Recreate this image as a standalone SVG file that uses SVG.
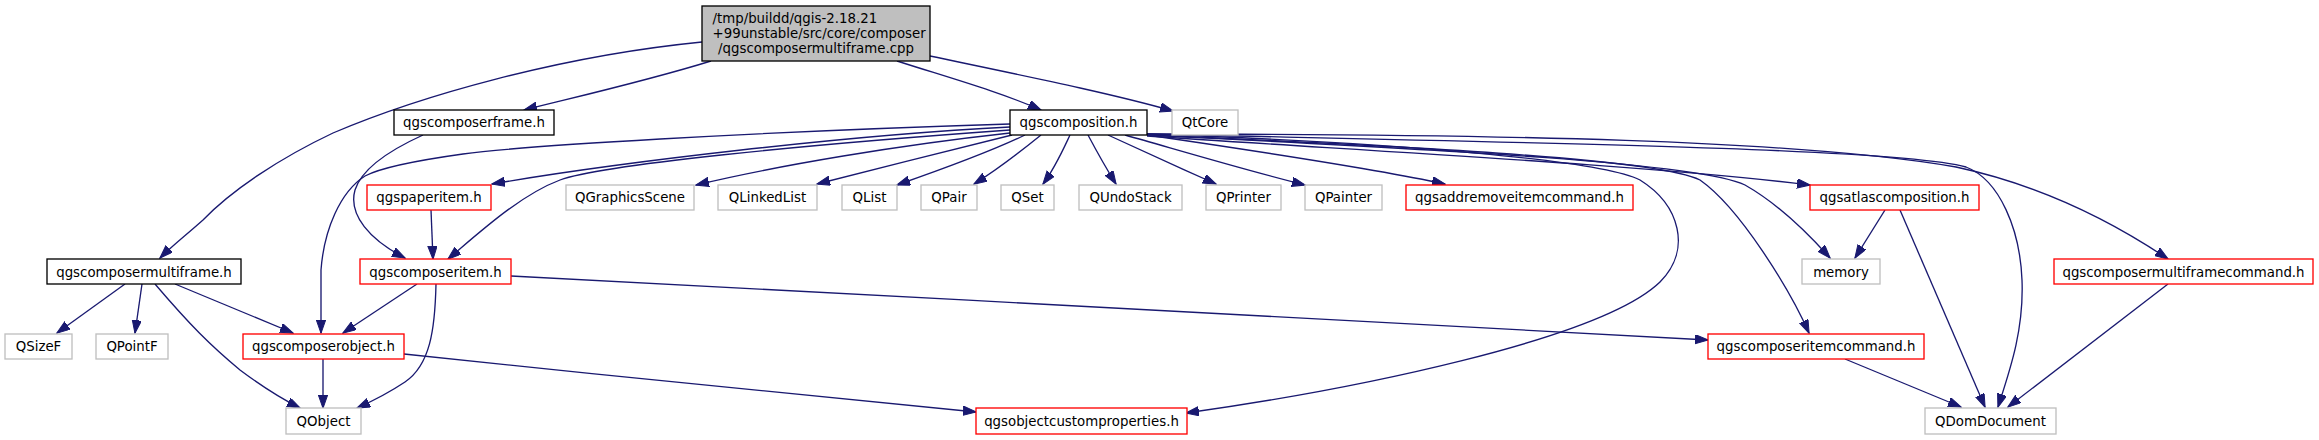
<svg xmlns="http://www.w3.org/2000/svg" width="2319" height="440" viewBox="0 0 2319 440">
<defs>
<marker id="arr" markerWidth="14" markerHeight="10" refX="13" refY="4.67" orient="auto" markerUnits="userSpaceOnUse">
<path d="M0,0 L13.3,4.67 L0,9.33 z" fill="#191970" stroke="#191970" stroke-width="1"/>
</marker>
<style>
text{font-family:"DejaVu Sans","Liberation Sans",sans-serif;font-size:13.33px;fill:#000;text-anchor:middle}
.n rect{fill:#fff;stroke-width:1.33}
.blk rect{stroke:#000}
.red rect{stroke:#ff0000}
.gry rect{stroke:#bfbfbf}
.root rect{fill:#bfbfbf;stroke:#000}
#edges path{fill:none;stroke:#191970;stroke-width:1.33;marker-end:url(#arr)}
</style>
</defs>
<rect width="2319" height="440" fill="#fff"/>
<g id="edges">
<path d="M702,42 C 560,56 420,96 333,133 C 280,158 232,190 203,220 C 185,236 172,246 160,258"/>
<path d="M711,61 C 650,80 580,96 524,110"/>
<path d="M897,61 C 950,78 1000,92 1041,110"/>
<path d="M930,56 C 1020,75 1110,93 1173,111"/>
<path d="M423,135 C 390,150 362,168 355,190 C 348,215 370,240 405,258"/>
<path d="M1010,124 C 750,132 520,146 463,154 C 420,160 380,168 365,176 C 340,192 324,230 321,270 L 321,333"/>
<path d="M1010,127 C 850,135 620,162 492,184"/>
<path d="M1010,130 C 800,145 600,165 560,180 C 520,195 480,232 448,259"/>
<path d="M1010,133 C 900,145 780,165 696,185"/>
<path d="M1012,135 C 950,150 880,168 817,184"/>
<path d="M1025,135 C 990,152 940,170 897,185"/>
<path d="M1041,135 C 1020,152 1000,168 974,184"/>
<path d="M1070,135 C 1062,152 1055,168 1043,184"/>
<path d="M1088,135 C 1097,152 1106,168 1116,184"/>
<path d="M1108,135 C 1145,152 1180,168 1216,184"/>
<path d="M1125,135 C 1185,152 1245,170 1305,185"/>
<path d="M1147,135 C 1250,150 1380,170 1445,184"/>
<path d="M1147,136 C 1350,150 1650,165 1810,185"/>
<path d="M1147,135 C 1450,150 1700,163 1745,185 C 1775,202 1805,230 1830,258"/>
<path d="M1147,135 C 1450,148 1660,160 1700,180 C 1740,208 1790,290 1809,333"/>
<path d="M1147,134 C 1400,143 1600,160 1640,180 C 1680,205 1692,250 1660,282 C 1600,340 1350,390 1186,413"/>
<path d="M1147,134 C 1500,142 1900,148 1966,167 C 2000,180 2020,230 2022,280 C 2024,330 2010,370 1998,407"/>
<path d="M1147,134 C 1500,134 1800,140 1956,167 C 2040,185 2110,220 2168,259"/>
<path d="M431,210 L 433,259"/>
<path d="M417,284 L 343,333"/>
<path d="M436,284 C 435,330 430,365 405,382 C 390,392 375,400 357,408"/>
<path d="M511,276 C 900,297 1400,322 1708,340"/>
<path d="M323,359 L 323,408"/>
<path d="M404,354 C 600,375 850,400 976,412"/>
<path d="M125,284 L 57,333"/>
<path d="M142,284 L 135,333"/>
<path d="M155,284 C 190,325 210,345 240,370 C 260,385 278,397 300,408"/>
<path d="M175,284 L 293,333"/>
<path d="M1885,210 L 1855,258"/>
<path d="M1900,210 L 1985,407"/>
<path d="M1845,359 L 1961,407"/>
<path d="M2168,284 L 2008,407"/>
</g>
<g id="n_main" class="n root"><rect x="702" y="6" width="228" height="55"/>
<text x="712.5" y="23.2" style="text-anchor:start">/tmp/buildd/qgis-2.18.21</text>
<text x="712.5" y="37.9" style="text-anchor:start">+99unstable/src/core/composer</text>
<text x="816" y="52.6">/qgscomposermultiframe.cpp</text></g>
<g id="n_frame" class="n blk"><rect x="394" y="110" width="160" height="25"/><text x="474" y="127">qgscomposerframe.h</text></g>
<g id="n_composition" class="n blk"><rect x="1010" y="110" width="137" height="25"/><text x="1078.5" y="127">qgscomposition.h</text></g>
<g id="n_qtcore" class="n gry"><rect x="1172" y="110" width="66" height="25"/><text x="1205" y="127">QtCore</text></g>
<g id="n_paperitem" class="n red"><rect x="367" y="185" width="124" height="25"/><text x="429" y="202">qgspaperitem.h</text></g>
<g id="n_qgraphicsscene" class="n gry"><rect x="566" y="185" width="128" height="25"/><text x="630" y="202">QGraphicsScene</text></g>
<g id="n_qlinkedlist" class="n gry"><rect x="718" y="185" width="99" height="25"/><text x="767.5" y="202">QLinkedList</text></g>
<g id="n_qlist" class="n gry"><rect x="842" y="185" width="55" height="25"/><text x="869.5" y="202">QList</text></g>
<g id="n_qpair" class="n gry"><rect x="921" y="185" width="56" height="25"/><text x="949" y="202">QPair</text></g>
<g id="n_qset" class="n gry"><rect x="1001" y="185" width="53" height="25"/><text x="1027.5" y="202">QSet</text></g>
<g id="n_qundostack" class="n gry"><rect x="1079" y="185" width="103" height="25"/><text x="1130.5" y="202">QUndoStack</text></g>
<g id="n_qprinter" class="n gry"><rect x="1206" y="185" width="75" height="25"/><text x="1243.5" y="202">QPrinter</text></g>
<g id="n_qpainter" class="n gry"><rect x="1305" y="185" width="77" height="25"/><text x="1343.5" y="202">QPainter</text></g>
<g id="n_addremove" class="n red"><rect x="1406" y="185" width="227" height="25"/><text x="1519.5" y="202">qgsaddremoveitemcommand.h</text></g>
<g id="n_atlas" class="n red"><rect x="1810" y="185" width="169" height="25"/><text x="1894.5" y="202">qgsatlascomposition.h</text></g>
<g id="n_multiframe" class="n blk"><rect x="47" y="259" width="194" height="25"/><text x="144" y="276.5">qgscomposermultiframe.h</text></g>
<g id="n_item" class="n red"><rect x="360" y="259" width="151" height="25"/><text x="435.5" y="276.5">qgscomposeritem.h</text></g>
<g id="n_memory" class="n gry"><rect x="1802" y="259" width="78" height="25"/><text x="1841" y="276.5">memory</text></g>
<g id="n_mfcommand" class="n red"><rect x="2054" y="259" width="259" height="25"/><text x="2183.5" y="276.5">qgscomposermultiframecommand.h</text></g>
<g id="n_qsizef" class="n gry"><rect x="5" y="334" width="67" height="25"/><text x="38.5" y="351">QSizeF</text></g>
<g id="n_qpointf" class="n gry"><rect x="96" y="334" width="72" height="25"/><text x="132" y="351">QPointF</text></g>
<g id="n_object" class="n red"><rect x="243" y="334" width="161" height="25"/><text x="323.5" y="351">qgscomposerobject.h</text></g>
<g id="n_itemcommand" class="n red"><rect x="1708" y="334" width="216" height="25"/><text x="1816" y="351">qgscomposeritemcommand.h</text></g>
<g id="n_qobject" class="n gry"><rect x="286" y="408" width="75" height="26"/><text x="323.5" y="425.5">QObject</text></g>
<g id="n_custprops" class="n red"><rect x="976" y="408" width="211" height="26"/><text x="1081.5" y="425.5">qgsobjectcustomproperties.h</text></g>
<g id="n_qdomdocument" class="n gry"><rect x="1925" y="408" width="131" height="26"/><text x="1990.5" y="425.5">QDomDocument</text></g>
</svg>
